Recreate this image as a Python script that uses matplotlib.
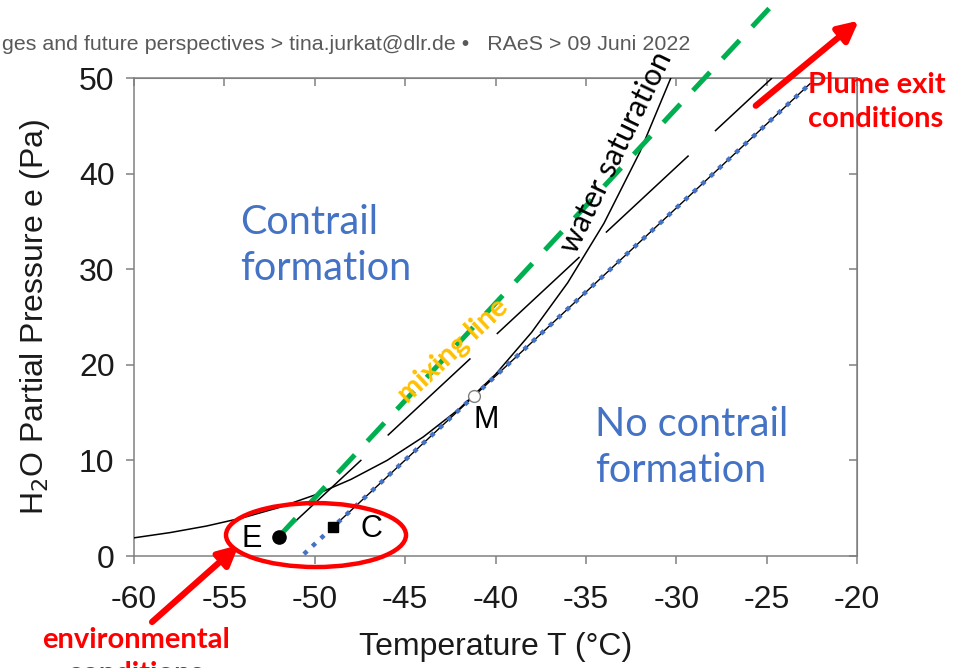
import matplotlib
matplotlib.use("Agg")
import matplotlib.pyplot as plt
from matplotlib.patches import Ellipse

# water saturation curve
sat_T = [-60, -58, -56, -54, -52, -50, -48, -46, -44, -42, -40, -38, -36, -34, -32, -30.3]
sat_e = [1.9, 2.45, 3.13, 3.99, 5.06, 6.38, 8.01, 10.0, 12.45, 15.4, 19.0, 23.4, 28.6, 34.8, 42.3, 50.0]

# green mixing line from E (runs past the top of the plot)
mix_T = [-52.0, -24.7]
mix_e = [2.0, 57.6]

# black long-dashed line from E
eline_T = [-52.0, -24.7]
eline_e = [2.0, 50.0]

# threshold line through C and M
thr_T = [-49.0, -22.6]
thr_e = [3.0, 49.4]
dot_T = [-50.6, -22.6]
dot_e = [0.2, 49.4]

# points
pt_names = ["E", "C", "M"]
pt_T = [-52.0, -49.0, -41.2]
pt_e = [2.0, 3.0, 16.7]

xticks = [-60, -55, -50, -45, -40, -35, -30, -25, -20]
yticks = [0, 10, 20, 30, 40, 50]

blue = "#4472c4"
axis_font = "Liberation Sans"
office_font = "Lato"

fig = plt.figure(figsize=(9.55, 6.68), dpi=100)
ax = fig.add_axes([134 / 955, 1 - 556 / 668, 723 / 955, 478 / 668])

ax.plot(sat_T, sat_e, color="black", lw=1.1, zorder=3)
ax.plot(eline_T, eline_e, color="black", lw=1.1, linestyle=(0, (74, 23.5)), zorder=3)
ax.plot(thr_T, thr_e, color="black", lw=1.0, zorder=3)
ax.plot(dot_T, dot_e, color=blue, lw=3.2, linestyle=(0, (1.0, 1.6)), zorder=4)
ax.plot(mix_T, mix_e, color="#00b050", lw=3.6, linestyle=(0, (5.0, 3.7)), zorder=5, clip_on=False)

ax.plot(pt_T[0], pt_e[0], "o", color="black", ms=9.5, zorder=6)
ax.plot(pt_T[1], pt_e[1], "s", color="black", ms=7.5, zorder=6)
ax.plot(pt_T[2], pt_e[2], "o", mfc="white", mec="#808080", ms=8.5, zorder=6)

ax.text(-53.47, 1.78, pt_names[0], fontsize=22, family=axis_font, ha="center", va="center", zorder=7)
ax.text(-46.88, 2.82, pt_names[1], fontsize=22, family=axis_font, ha="center", va="center", zorder=7)
ax.text(-40.52, 14.2, pt_names[2], fontsize=22, family=axis_font, ha="center", va="center", zorder=7)

ell = Ellipse((-49.93, 2.19), width=9.96, height=6.69, fill=False, ec="red", lw=3.2, clip_on=False, zorder=8)
ax.add_patch(ell)

ax.annotate("", xy=(-19.9, 56.0), xytext=(-25.6, 47.1), annotation_clip=False,
            arrowprops=dict(arrowstyle="-|>", color="red", lw=4.5, mutation_scale=30, shrinkA=0, shrinkB=0), zorder=8)
ax.annotate("", xy=(-54.2, 1.15), xytext=(-59.0, -6.9), annotation_clip=False,
            arrowprops=dict(arrowstyle="-|>", color="red", lw=4.5, mutation_scale=30, shrinkA=0, shrinkB=0), zorder=8)

# multi-line texts: baseline refers to the last line
ax.text(-54.13, 28.84, "Contrail\nformation", color=blue, fontsize=28.5, family=office_font,
        ha="left", va="baseline", linespacing=1.3)
ax.text(-34.49, 7.73, "No contrail\nformation", color=blue, fontsize=28.5, family=office_font,
        ha="left", va="baseline", linespacing=1.3)
ax.text(-42.35, 21.5, "mixing line", color="#ffc000", fontsize=21, family=office_font, weight="bold",
        rotation=43, rotation_mode="anchor", ha="center", va="center", zorder=6)
ax.text(-33.33, 42.2, "water saturation", color="black", fontsize=22, family=office_font,
        rotation=64, rotation_mode="anchor", ha="center", va="center", zorder=6)

ax.set_xlim(-60, -20)
ax.set_ylim(0, 50)
ax.set_xticks(xticks)
ax.set_yticks(yticks)
ax.set_xticklabels([str(t) for t in xticks], family=axis_font, fontsize=23)
ax.set_yticklabels([str(t) for t in yticks], family=axis_font, fontsize=23)
ax.tick_params(direction="out", length=6, width=1.1, color="#808080", labelcolor="#1a1a1a")
ax.tick_params(axis="x", pad=15)
ax.tick_params(axis="y", pad=8)
for s in ax.spines.values():
    s.set_color("#808080")
    s.set_linewidth(1.1)

top = ax.secondary_xaxis("top")
top.set_xticks(xticks)
top.tick_params(direction="in", length=6, width=1.1, color="#808080", labeltop=False)
top.spines["top"].set_color("#808080")
right = ax.secondary_yaxis("right")
right.set_yticks(yticks)
right.tick_params(direction="in", length=6, width=1.1, color="#808080", labelright=False)
right.spines["right"].set_color("#808080")

ax.set_xlabel("Temperature T (°C)", family=axis_font, fontsize=23, color="#1a1a1a")
ax.xaxis.set_label_coords(0.5, -0.16)
ax.set_ylabel("H$_2$O Partial Pressure e (Pa)", family=axis_font, fontsize=23, color="#1a1a1a")
ax.yaxis.set_label_coords(-0.113, 0.5)

fig.text(690 / 955, 1 - 50 / 668, "ges and future perspectives > tina.jurkat@dlr.de \u2022   RAeS > 09 Juni 2022",
         family=axis_font, fontsize=15.38, color="#595959", ha="right", va="baseline")
fig.text(808 / 955, 1 - 127 / 668, "Plume exit\nconditions", family=office_font, weight="bold",
         fontsize=21, color="red", ha="left", va="baseline", linespacing=1.4)
fig.text(136 / 955, 1 - 682 / 668, "environmental\nconditions", family=office_font, weight="bold",
         fontsize=21, color="red", ha="center", va="baseline", linespacing=1.4)

fig.savefig("out.png", dpi=100)
